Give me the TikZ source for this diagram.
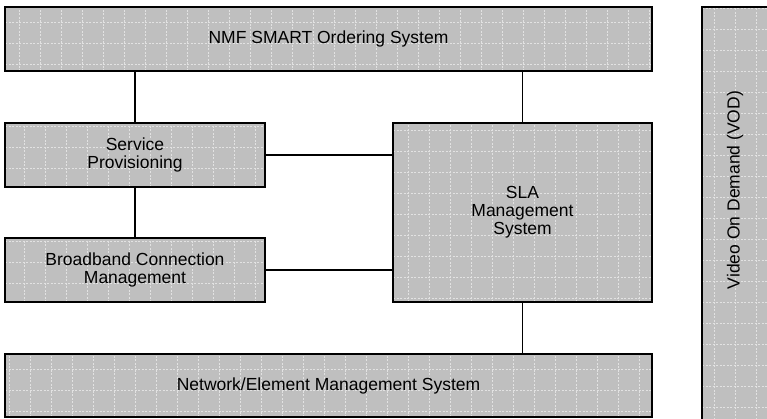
\documentclass[tikz,border=0pt]{standalone}
\usepackage{fontspec}
\setmainfont{Liberation Sans}
\begin{document}
\begin{tikzpicture}[x=1pt,y=-1pt,
  box/.style={draw=black, line width=1.6pt, fill=black!25, rectangle, inner sep=0pt,
    align=center, text=black, font=\fontsize{17.5}{18}\selectfont,
    path picture={\draw[white, line width=0.5pt, dash pattern=on 2pt off 1.5pt, opacity=0.55]
      (path picture bounding box.south west) grid[step=21pt]
      (path picture bounding box.north east);}},
  link/.style={draw=black, line width=1.3pt},
  lbl/.style={font=\fontsize{17.5}{18}\selectfont, text=black}]
  \useasboundingbox (0,0) rectangle (767,418);
  \clip (0,0) rectangle (767,418);

  % management layers
  \node[box, minimum width=647pt, minimum height=64pt] (nmf) at (328.5,39) {NMF SMART Ordering System};
  \node[box, minimum width=260pt, minimum height=64pt] (svc) at (135,155) {Service\\Provisioning};
  \node[box, minimum width=260pt, minimum height=64pt] (bbc) at (135,270) {Broadband Connection\\Management};
  \node[box, minimum width=259pt, minimum height=179pt] (sla) at (522.5,212.5) {SLA\\Management\\System};
  \node[box, minimum width=647pt, minimum height=63pt] (net) at (328.5,385.5) {Network/Element Management System};

  % vertical service column
  \node[box, minimum width=66pt, minimum height=423pt] (vod) at (735,218.5) {};
  \node[lbl, rotate=90] (vodtext) at (735,190) {Video On Demand (VOD)};

  % interfaces
  \draw[link] (svc.north |- nmf.south) -- (svc.north);
  \draw[link] (svc.south) -- (bbc.north);
  \draw[link] (svc.east) -- (svc.east -| sla.west);
  \draw[link] (bbc.east) -- (bbc.east -| sla.west);
  \draw[link] (sla.north |- nmf.south) -- (sla.north);
  \draw[link] (sla.south) -- (sla.south |- net.north);
\end{tikzpicture}
\end{document}
